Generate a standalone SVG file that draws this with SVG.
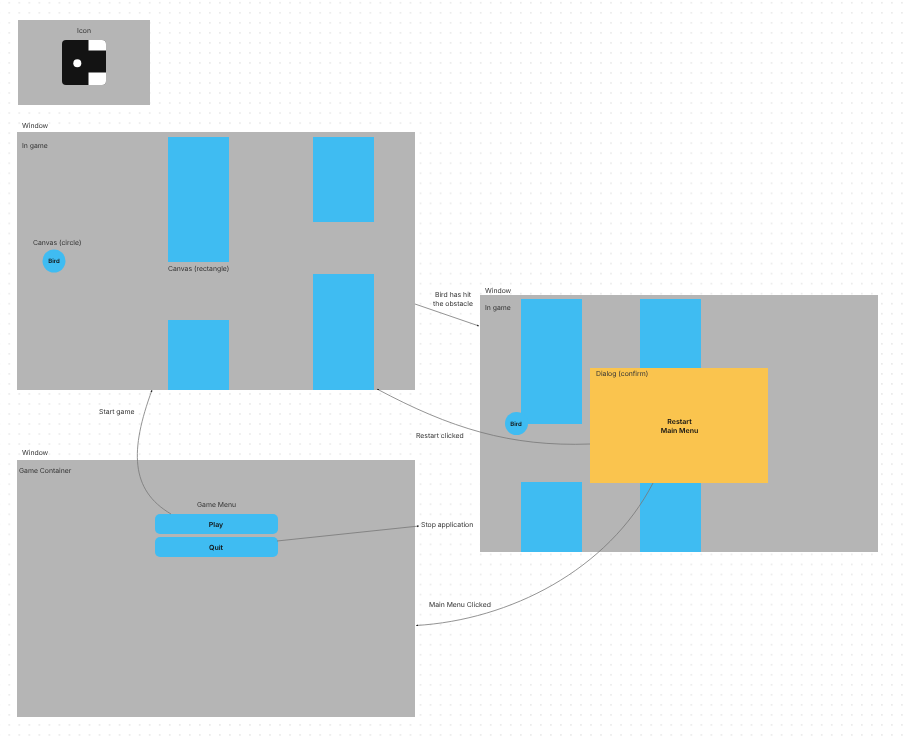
<svg xmlns="http://www.w3.org/2000/svg" width="903" height="741" viewBox="0 0 903 741">
<style>
text{font-family:"Inter","Liberation Sans",sans-serif;font-size:6.850px;fill:#333;text-rendering:geometricPrecision;filter:url(#t)}
.b{font-weight:600;fill:#111;text-anchor:middle;font-size:7px}
.n{font-size:6px}
.m{text-anchor:middle}
.g{fill:#b5b5b5}
.s{fill:#3fbcf2}
.c{fill:none;stroke:#777;stroke-width:.8;marker-end:url(#a)}
</style>
<defs>
<filter id="t" x="-10%" y="-30%" width="120%" height="160%"><feOffset dx="0" dy="0"/></filter>
<pattern id="d" x="7.500" y="1" width="10.030" height="10.030" patternUnits="userSpaceOnUse"><rect x="1" y="1" width="1.500" height="1.500" fill="#e6e6e6"/></pattern>
<marker id="a" markerWidth="3" markerHeight="3" refX="2" refY="1" orient="auto" markerUnits="userSpaceOnUse"><path d="M0 0L2 1L0 2z" fill="#222"/></marker>
</defs>
<rect width="903" height="741" fill="#fff"/>
<rect width="903" height="741" fill="url(#d)"/>
<g id="icon-frame"><rect class="g" x="18" y="20" width="132" height="85"/><text class="m" x="84" y="33">Icon</text>
<g id="icon"><rect x="62" y="40" width="44" height="45" rx="4" fill="#131313"/><path d="M88.500 40H102a4 4 0 0 1 4 4V50.500H88.500z" fill="#fff"/><path d="M88.500 72.500H106V81a4 4 0 0 1-4 4H88.500z" fill="#fff"/><circle cx="77.300" cy="63.300" r="4" fill="#fff"/></g></g>
<g id="window-1"><text x="22" y="128">Window</text><rect class="g" x="17" y="132" width="398" height="258"/><text x="22" y="148">In game</text>
<rect class="s" x="168" y="137" width="61" height="125"/><rect class="s" x="313" y="137" width="61" height="85"/><rect class="s" x="168" y="320" width="61" height="70"/><rect class="s" x="313" y="274" width="61" height="116"/>
<text x="33" y="245">Canvas (circle)</text><text x="168" y="271">Canvas (rectangle)</text>
<g id="bird-1"><circle class="s" cx="54" cy="261" r="11.500"/><text class="b n" x="54" y="263.200">Bird</text></g></g>
<g id="window-2"><text x="485" y="293">Window</text><rect class="g" x="480" y="295" width="398" height="257"/><text x="485" y="310">In game</text>
<rect class="s" x="521" y="299" width="61" height="125"/><rect class="s" x="640" y="299" width="61" height="85"/><rect class="s" x="521" y="482" width="61" height="70"/><rect class="s" x="640" y="482" width="61" height="70"/>
<g id="bird-2"><circle class="s" cx="516.500" cy="423.500" r="11.500"/><text class="b n" x="516" y="426">Bird</text></g></g>
<g id="window-3"><text x="22" y="455">Window</text><rect class="g" x="17" y="460" width="398" height="257"/><text x="19" y="473">Game Container</text><text class="m" x="216.500" y="507">Game Menu</text>
<g id="play"><rect class="s" x="155" y="514" width="123" height="20" rx="5"/><text class="b" x="216" y="526.500">Play</text></g>
<g id="quit"><rect class="s" x="155" y="537" width="123" height="20" rx="5"/><text class="b" x="216" y="550">Quit</text></g></g>
<g id="connectors">
<path class="c" d="M415 304L479 326"/>
<path class="c" d="M590 444C510 447 450 428 377 389"/>
<path class="c" d="M171 514C130 490 130 450 152 390"/>
<path class="c" d="M277 541L419 526"/>
<path class="c" d="M653 483C608 570 510 620 416 625.500"/>
</g>
<g id="dialog"><rect x="590" y="368" width="178" height="115" fill="#fac44e"/><text x="596" y="376">Dialog (confirm)</text><text class="b" x="679.500" y="424">Restart</text><text class="b" x="679.500" y="433">Main Menu</text></g>
<g id="labels"><text class="m" x="453" y="297">Bird has hit</text><text class="m" x="453" y="306">the obstacle</text><text x="416" y="438">Restart clicked</text><text x="99" y="414">Start game</text><text x="421" y="527">Stop application</text><text x="429" y="607">Main Menu Clicked</text></g>
</svg>
